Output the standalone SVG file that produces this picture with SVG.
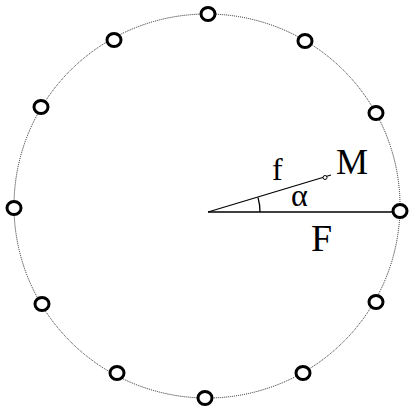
<svg xmlns="http://www.w3.org/2000/svg" width="410" height="416" viewBox="0 0 410 416">
<style>
.ring{fill:none;stroke:#222;stroke-width:1;stroke-dasharray:1 1}
.node{fill:#fff;stroke:#000;stroke-width:3}
.ln{stroke:#000;stroke-width:1.3;fill:none}
.lbl{font-family:"Liberation Serif","Times New Roman",serif;fill:#000}
</style>
<rect width="410" height="416" fill="#fff"/>
<ellipse class="ring" cx="207" cy="206" rx="193" ry="192"/>
<g id="connectors">
<line class="ln" x1="208" y1="212" x2="400" y2="212"/>
<line class="ln" x1="208" y1="212" x2="331" y2="175"/>
<path class="ln" d="M258 197.5 A52 52 0 0 1 260 212"/>
<circle cx="325" cy="177.5" r="2" fill="#fff" stroke="#000" stroke-width="1"/>
</g>
<g id="n1"><ellipse class="node" cx="208" cy="14" rx="7" ry="6.5"/></g>
<g id="n2"><ellipse class="node" cx="305" cy="41" rx="7" ry="6.5"/></g>
<g id="n3"><ellipse class="node" cx="376" cy="113" rx="7" ry="6.5"/></g>
<g id="n4"><ellipse class="node" cx="400" cy="211" rx="7" ry="6.5"/></g>
<g id="n5"><ellipse class="node" cx="376" cy="302" rx="7" ry="6.5"/></g>
<g id="n6"><ellipse class="node" cx="303" cy="373" rx="7" ry="6.5"/></g>
<g id="n7"><ellipse class="node" cx="205" cy="398" rx="7" ry="6.5"/></g>
<g id="n8"><ellipse class="node" cx="117" cy="373" rx="7" ry="6.5"/></g>
<g id="n9"><ellipse class="node" cx="42" cy="304" rx="7" ry="6.5"/></g>
<g id="n10"><ellipse class="node" cx="14" cy="208" rx="7" ry="6.5"/></g>
<g id="n11"><ellipse class="node" cx="41" cy="107" rx="7" ry="6.5"/></g>
<g id="n12"><ellipse class="node" cx="114" cy="40" rx="7" ry="6.5"/></g>
<text class="lbl" x="272" y="180" font-size="32">f</text>
<text class="lbl" x="336" y="174" font-size="36">M</text>
<text class="lbl" x="291" y="206" font-size="32">α</text>
<text class="lbl" x="311" y="251" font-size="38">F</text>
</svg>
